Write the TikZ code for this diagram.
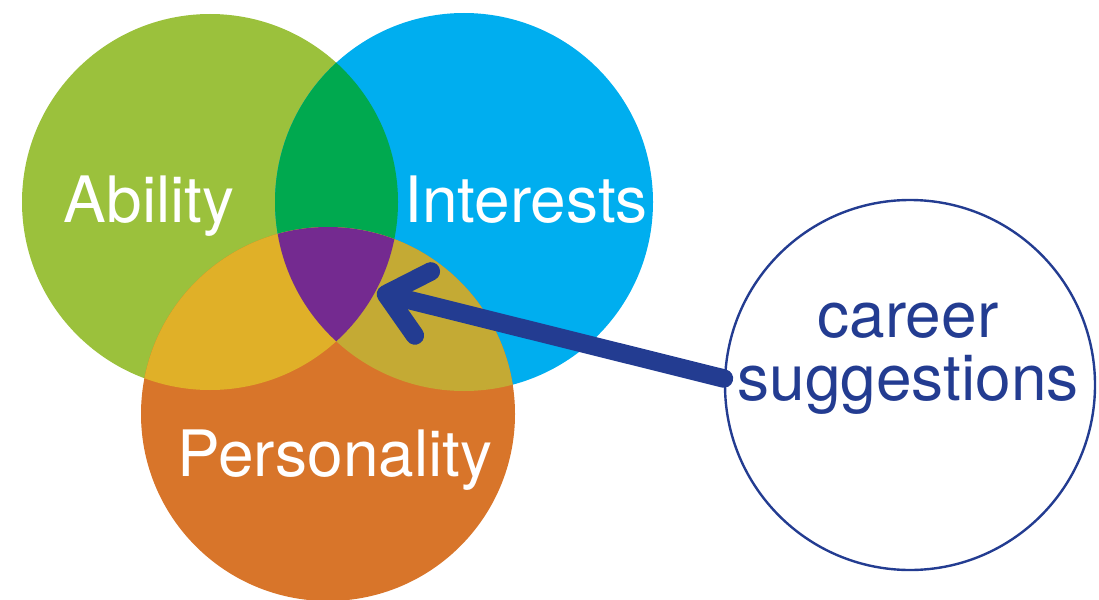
\documentclass[tikz,border=0pt]{standalone}
\usepackage{fontspec}
\setmainfont{TeX Gyre Heros}
\usetikzlibrary{arrows.meta}
\definecolor{abilitygreen}{RGB}{155,193,60}
\definecolor{interestblue}{RGB}{0,174,239}
\definecolor{personorange}{RGB}{216,117,42}
\definecolor{lensgreen}{RGB}{0,169,79}
\definecolor{lensyellow}{RGB}{224,176,40}
\definecolor{lensolive}{RGB}{196,170,52}
\definecolor{corepurple}{RGB}{116,42,144}
\definecolor{careernavy}{RGB}{35,60,145}
\tikzstyle{venntext}=[text=white, inner sep=0pt, anchor=base, font=\fontsize{64}{64}\selectfont]
\newcommand{\venntext}{\node[venntext]}
\newcommand{\ability}{(210,202) circle [radius=188pt]}
\newcommand{\interests}{(464,202) circle [radius=189pt]}
\newcommand{\personality}{(328,414) circle [radius=187pt]}

\begin{document}
\begin{tikzpicture}[x=1pt, y=-1pt
    ,pointer/.style={draw=careernavy, line width=18.5pt, line cap=round,
        -{Straight Barb[length=38pt, width=66pt, line cap=round, line join=round]}}
]
\useasboundingbox (0,0) rectangle (1099,599);
\fill[abilitygreen] \ability;
\fill[interestblue] \interests;
\fill[personorange] \personality;
\begin{scope}
\clip \ability; \fill[lensgreen] \interests;
\end{scope}
\begin{scope}
\clip \ability; \fill[lensyellow] \personality;
\end{scope}
\begin{scope}
\clip \interests; \fill[lensolive] \personality;
\end{scope}
\begin{scope}
\clip \ability; \clip \interests; \fill[corepurple] \personality;
\end{scope}
\venntext (abilitytext) at (149,222) {Ability};
\venntext (intereststext) at (526,222) {Interests};
\venntext (personalitytext) at (335,476) {Personality};
\node[circle, draw=careernavy, line width=2.4pt, minimum size=370pt] (career) at (910,385) {};
\node[text=careernavy, align=center, inner sep=0pt, font=\fontsize{64}{63}\selectfont]
    (careertext) at (908,359) {career\\suggestions};
\coordinate (core) at (377,292);
\draw[pointer] (career.178) -- (core);
\end{tikzpicture}
\end{document}
